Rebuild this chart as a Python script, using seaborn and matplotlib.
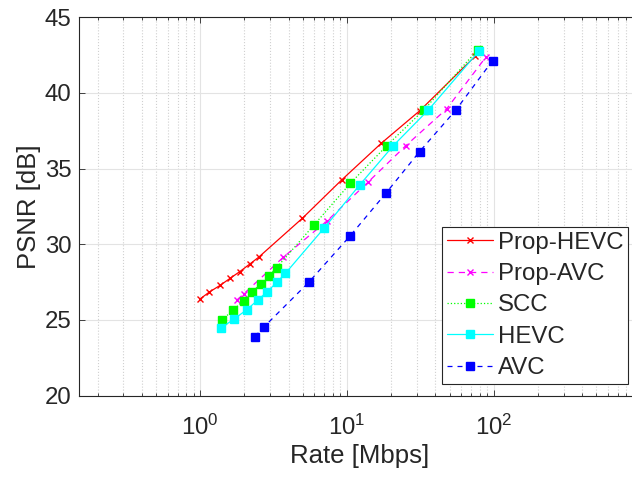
import numpy as np
import pandas as pd
import matplotlib
matplotlib.use("Agg")
import matplotlib.pyplot as plt
import matplotlib.ticker as mticker
import seaborn as sns

# rate [Mbps] / psnr [dB]
prop_hevc_rate = [1.0, 1.15, 1.37, 1.60, 1.86, 2.17, 2.50, 4.97, 9.2, 17.1, 31.2, 74.5]
prop_hevc_psnr = [26.39, 26.83, 27.29, 27.75, 28.19, 28.68, 29.14, 31.72, 34.25, 36.67, 38.81, 42.42]

prop_avc_rate = [1.78, 1.98, 3.68, 7.35, 13.9, 25.2, 47.7, 88.8]
prop_avc_psnr = [26.32, 26.72, 29.14, 31.56, 34.1, 36.52, 38.94, 42.4]

scc_rate = [1.41, 1.68, 1.98, 2.26, 2.58, 2.94, 3.32, 5.97, 10.55, 18.7, 33.4, 77.5]
scc_psnr = [25.0, 25.66, 26.28, 26.85, 27.38, 27.93, 28.46, 31.28, 34.03, 36.52, 38.88, 42.84]

hevc_rate = [1.38, 1.69, 2.07, 2.47, 2.87, 3.33, 3.81, 6.97, 12.2, 20.7, 35.9, 79.8]
hevc_psnr = [24.45, 25.04, 25.66, 26.32, 26.87, 27.49, 28.08, 31.06, 33.92, 36.52, 38.88, 42.8]

avc_rate = [2.36, 2.71, 5.47, 10.5, 18.4, 31.2, 55.3, 98.2]
avc_psnr = [23.9, 24.52, 27.47, 30.55, 33.37, 36.12, 38.88, 42.14]

x_ticks = [1, 10, 100]
y_ticks = [20, 25, 30, 35, 40, 45]

series = [
    ("Prop-HEVC", prop_hevc_rate, prop_hevc_psnr, "#ff0000", "-", "x"),
    ("Prop-AVC", prop_avc_rate, prop_avc_psnr, "#ff00ff", (0, (5, 4)), "x"),
    ("SCC", scc_rate, scc_psnr, "#00ff00", ":", "s"),
    ("HEVC", hevc_rate, hevc_psnr, "#00ffff", "-", "s"),
    ("AVC", avc_rate, avc_psnr, "#0000ff", (0, (4, 4)), "s"),
]

sns.set_style("whitegrid")
plt.rcParams["font.family"] = ["Liberation Sans", "DejaVu Sans"]
plt.rcParams["font.size"] = 17

fig = plt.figure(figsize=(6.32, 4.79), dpi=100)
ax = fig.add_axes([0.1255, 0.1743, 0.888, 0.7896])

for name, r, p, c, ls, m in series:
    df = pd.DataFrame({"rate": r, "psnr": p})
    sns.lineplot(data=df, x="rate", y="psnr", ax=ax, color=c, linestyle=ls,
                 marker=m, markersize=5.5 if m == "s" else 5,
                 markerfacecolor=c, markeredgecolor=c, markeredgewidth=1.0,
                 linewidth=0.9, label=name, estimator=None, sort=False)

ax.set_xscale("log")
ax.set_xlim(0.15, 1000)
ax.set_ylim(20, 45)
ax.set_yticks(y_ticks)
ax.xaxis.set_major_locator(mticker.FixedLocator(x_ticks))
ax.xaxis.set_major_formatter(mticker.LogFormatterSciNotation())
ax.xaxis.set_minor_locator(mticker.LogLocator(base=10, subs=np.arange(2, 10), numticks=20))
ax.xaxis.set_minor_formatter(mticker.NullFormatter())

ax.grid(which="major", color="#e3e3e3", linestyle="-", linewidth=0.8)
ax.grid(which="minor", axis="x", color="#d0d0d0", linestyle=":", linewidth=0.8)
ax.grid(which="minor", axis="y", visible=False)
ax.set_axisbelow(True)

for s in ax.spines.values():
    s.set_color("#262626")
    s.set_linewidth(0.8)
ax.tick_params(which="both", direction="in", top=True, right=True,
               bottom=True, left=True, color="#262626", labelcolor="#262626",
               labelsize=17.3, width=0.6)
ax.tick_params(which="major", length=4)
ax.tick_params(which="minor", length=2.5)
ax.tick_params(axis="y", pad=5.5)
ax.tick_params(axis="x", pad=14)

ax.set_xlabel("Rate [Mbps]", fontsize=18.5, color="#262626", labelpad=3)
ax.set_ylabel("PSNR [dB]", fontsize=18.5, color="#262626", labelpad=3)

leg = ax.legend(loc="upper left", bbox_to_anchor=(0.647, 0.446), borderaxespad=0,
                fontsize=17.3, handlelength=1.9, handletextpad=0.2, labelspacing=0.39,
                borderpad=0.2, fancybox=False, framealpha=1, edgecolor="#262626")
leg.get_frame().set_linewidth(0.8)

fig.savefig("out.png", dpi=100)
